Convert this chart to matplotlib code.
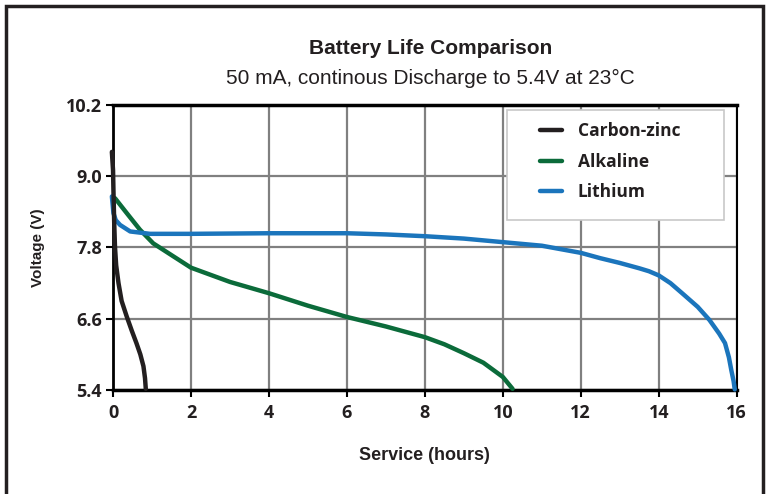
import numpy as np
import matplotlib.pyplot as plt
from matplotlib.patches import Rectangle

# hours vs volts
cz_hours = [-0.03, 0.00, 0.01, 0.03, 0.05, 0.08, 0.14, 0.22, 0.35, 0.48, 0.60, 0.70, 0.78, 0.82, 0.84]
cz_volts = [9.41, 9.10, 8.77, 8.21, 7.81, 7.50, 7.20, 6.90, 6.64, 6.40, 6.19, 6.00, 5.80, 5.60, 5.42]

alk_hours = [0.05, 0.35, 0.69, 1.03, 1.55, 2.0, 2.5, 3.0, 4.0, 5.0, 6.0, 7.0, 8.0, 8.5, 9.0, 9.5,
             10.0, 10.25]
alk_volts = [8.63, 8.38, 8.10, 7.87, 7.65, 7.46, 7.34, 7.22, 7.03, 6.82, 6.63, 6.47, 6.29, 6.17,
             6.02, 5.86, 5.62, 5.42]

li_hours = [-0.03, 0.01, 0.07, 0.18, 0.44, 0.95, 2.0, 4.0, 6.0, 7.0, 8.0, 9.0, 10.0, 11.0, 12.0,
            12.5, 13.0, 13.5, 13.75, 14.0, 14.3, 14.6, 15.0, 15.3, 15.55, 15.7, 15.8, 15.86, 15.92, 15.95]
li_volts = [8.66, 8.38, 8.26, 8.18, 8.07, 8.03, 8.03, 8.04, 8.04, 8.02, 7.99, 7.95, 7.89, 7.83,
            7.71, 7.62, 7.54, 7.45, 7.40, 7.33, 7.20, 7.03, 6.80, 6.58, 6.35, 6.19, 5.95, 5.74, 5.55, 5.41]

x_ticks = [0, 2, 4, 6, 8, 10, 12, 14, 16]
y_ticks = [5.4, 6.6, 7.8, 9.0, 10.2]

fig = plt.figure(figsize=(7.69, 4.94), dpi=100)
ax = fig.add_axes([0.147, 0.2105, 0.811, 0.577])

kw = dict(lw=3.2, solid_capstyle="round", solid_joinstyle="round", clip_on=False)
ax.plot(cz_hours, cz_volts, color="#231f20", label="Carbon-zinc", zorder=5, **kw)
ax.plot(alk_hours, alk_volts, color="#0b6b3a", label="Alkaline", zorder=4, **kw)
ax.plot(li_hours, li_volts, color="#1b75bc", label="Lithium", zorder=4, **kw)

ax.set_xlim(0, 16)
ax.set_ylim(5.4, 10.2)
ax.set_xticks(x_ticks)
ax.set_yticks(y_ticks)
ax.set_yticklabels(["%.1f" % v for v in y_ticks])
ax.grid(True, color="#808080", lw=1.6)
ax.set_axisbelow(True)

for lab in ax.get_xticklabels() + ax.get_yticklabels():
    lab.set_fontfamily("Open Sans")
    lab.set_fontweight("bold")
    lab.set_fontsize(13)
    lab.set_color("#231f20")
ax.tick_params(axis="both", direction="out", length=5, width=1.5, color="black", pad=3)
ax.tick_params(axis="x", pad=5)

ax.spines["top"].set_linewidth(2.5)
ax.spines["bottom"].set_linewidth(2.5)
ax.spines["left"].set_linewidth(2)
ax.spines["right"].set_linewidth(1.5)

ax.set_xlabel("Service (hours)", fontfamily="Liberation Sans", fontweight="bold", fontsize=13,
              labelpad=18, color="#231f20")
ax.set_ylabel("Voltage (V)", fontfamily="Liberation Sans", fontweight="bold", fontsize=11,
              labelpad=15, color="#231f20")

# legend box
ax.add_patch(Rectangle((0.631, 0.596), 0.348, 0.386, transform=ax.transAxes, facecolor="white",
                       edgecolor="#c8c8c8", lw=1.2, zorder=6))
leg = ax.legend(loc="upper left", bbox_to_anchor=(0.684, 0.94), frameon=False,
                handlelength=1.3, borderpad=0, borderaxespad=0, labelspacing=0.72,
                handletextpad=0.9,
                prop={"family": "Open Sans", "weight": "bold", "size": 12.5})
leg.set_zorder(7)
for t in leg.get_texts():
    t.set_color("#231f20")

fig.text(0.56, 0.901, "Battery Life Comparison", ha="center", va="center",
         fontfamily="Liberation Sans", fontweight="bold", fontsize=15, color="#231f20")
fig.text(0.56, 0.841, "50 mA, continous Discharge to 5.4V at 23°C", ha="center", va="center",
         fontfamily="Liberation Sans", fontsize=15, color="#231f20")

# outer frame
fig.add_artist(Rectangle((6 / 769, -0.05), 757 / 769, 1.05 - 6 / 494, transform=fig.transFigure,
                         fill=False, edgecolor="#231f20", lw=2.5, clip_on=False))

fig.savefig("out.png", dpi=100)
